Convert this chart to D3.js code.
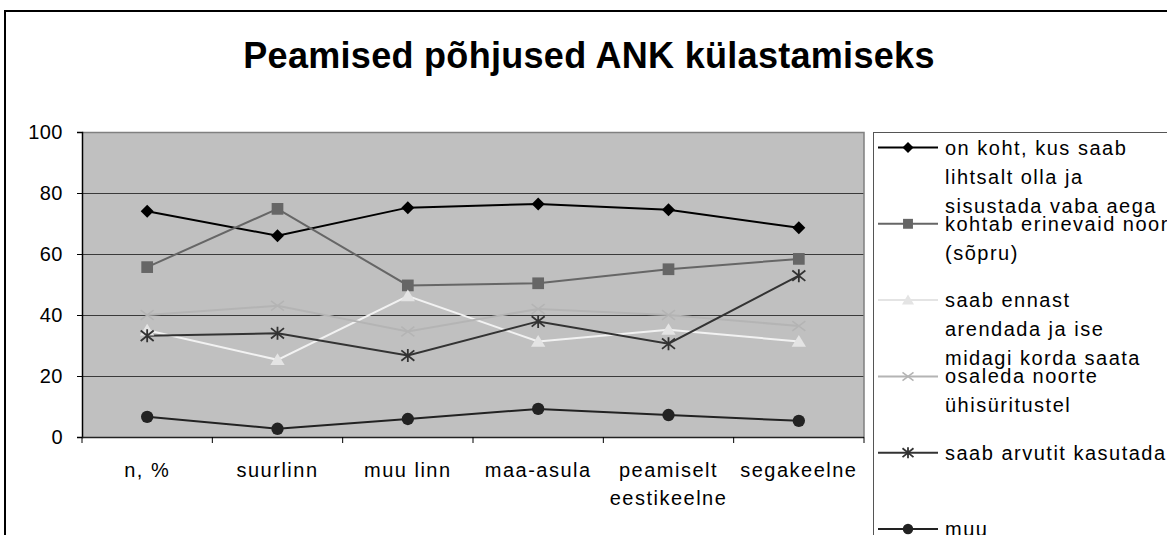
<!DOCTYPE html>
<html>
<head>
<meta charset="utf-8">
<script src="https://cdn.jsdelivr.net/npm/d3@7"></script>
<style>
  html, body { margin: 0; padding: 0; background: #fff; }
  svg { display: block; }
  text { font-family: "Liberation Sans", Arial, sans-serif; fill: #000; }
</style>
</head>
<body>
<svg id="chart" width="1167" height="535"></svg>
<script>
// Categories along the x axis (multi-line labels split on "\n")
const categories = ["n, %", "suurlinn", "muu linn", "maa-asula", "peamiselt\neestikeelne", "segakeelne"];

// Series names (legend text, wrapped into lines)
const seriesNames = [
  ["on koht, kus saab", "lihtsalt olla ja", "sisustada vaba aega"],
  ["kohtab erinevaid noore", "(sõpru)"],
  ["saab ennast", "arendada ja ise", "midagi korda saata"],
  ["osaleda noorte", "ühisüritustel"],
  ["saab arvutit kasutada"],
  ["muu"]
];

// Values per series, one per category
const vabaAeg   = [74, 66, 75.2, 76.4, 74.5, 68.6];
const noored    = [55.7, 74.8, 49.7, 50.4, 55, 58.4];
const arendada  = [35, 25.3, 46.2, 31.3, 35.2, 31.3];
const yhisyr    = [40, 43, 34.6, 42, 40, 36.4];
const arvuti    = [33.2, 34, 26.7, 37.9, 30.6, 52.9];
const muu       = [6.6, 2.7, 5.9, 9.2, 7.2, 5.3];

const yTicks = [0, 20, 40, 60, 80, 100];

const seriesValues = [vabaAeg, noored, arendada, yhisyr, arvuti, muu];
const seriesStyle = [
  { stroke: "#000000", fill: "#000000", legendStroke: "#000000", marker: "diamond" },
  { stroke: "#666666", fill: "#666666", legendStroke: "#666666", marker: "square" },
  { stroke: "#f2f2f2", fill: "#e4e4e4", legendStroke: "#e4e4e4", marker: "triangle" },
  { stroke: "#b4b4b4", fill: "#b4b4b4", legendStroke: "#b4b4b4", marker: "cross" },
  { stroke: "#333333", fill: "#333333", legendStroke: "#333333", marker: "star" },
  { stroke: "#222222", fill: "#222222", legendStroke: "#222222", marker: "circle" }
];

const svg = d3.select("#chart");

// outer frame
svg.append("rect")
  .attr("x", 5).attr("y", 11).attr("width", 1200).attr("height", 600)
  .attr("fill", "#fff").attr("stroke", "#000").attr("stroke-width", 2);

// title
svg.append("text")
  .attr("x", 589).attr("y", 68)
  .attr("text-anchor", "middle")
  .style("font-size", "36px").style("font-weight", "bold")
  .style("letter-spacing", "0.3px")
  .text("Peamised põhjused ANK külastamiseks");

const plot = { left: 82, top: 132, right: 864, bottom: 437 };

const x = d3.scaleBand().domain(categories)
  .range([plot.left, plot.right]).paddingInner(0).paddingOuter(0);
const y = d3.scaleLinear().domain([0, 100]).range([plot.bottom, plot.top]);
const cx = c => x(c) + x.bandwidth() / 2;

// plot background
svg.append("rect")
  .attr("x", plot.left).attr("y", plot.top)
  .attr("width", plot.right - plot.left).attr("height", plot.bottom - plot.top)
  .attr("fill", "#c0c0c0");

// horizontal gridlines
svg.append("g").selectAll("line")
  .data(yTicks.filter(t => t > 0 && t < 100))
  .join("line")
  .attr("x1", plot.left).attr("x2", plot.right)
  .attr("y1", d => Math.round(y(d)) + 0.5).attr("y2", d => Math.round(y(d)) + 0.5)
  .attr("stroke", "#3a3a3a").attr("stroke-width", 1);

// plot border (top and right, grey)
svg.append("path")
  .attr("d", `M${plot.left},${plot.top + 0.5}H${plot.right}V${plot.bottom}`)
  .attr("fill", "none").attr("stroke", "#808080").attr("stroke-width", 1.5);

// y axis
const yAxis = d3.axisLeft(y).tickValues(yTicks).tickSize(5).tickPadding(14);
const gy = svg.append("g").attr("transform", `translate(${plot.left},0)`).call(yAxis);
gy.select(".domain").attr("stroke", "#000").attr("stroke-width", 1.5);
gy.selectAll(".tick line").attr("stroke", "#000");
gy.selectAll(".tick text")
  .style("font-size", "20px").style("font-family", "Liberation Sans, Arial, sans-serif")
  .style("letter-spacing", "0.5px")
  .attr("fill", "#000");

// x axis line and boundary ticks
svg.append("line")
  .attr("x1", plot.left).attr("x2", plot.right)
  .attr("y1", plot.bottom + 0.5).attr("y2", plot.bottom + 0.5)
  .attr("stroke", "#222").attr("stroke-width", 1.5);
const bounds = categories.map(c => x(c)).concat([x.range()[1]]);
svg.append("g").selectAll("line")
  .data(bounds).join("line")
  .attr("x1", d => d).attr("x2", d => d)
  .attr("y1", plot.bottom).attr("y2", plot.bottom + 6)
  .attr("stroke", "#000").attr("stroke-width", 1);

// x category labels
svg.append("g").selectAll("text")
  .data(categories).join("text")
  .attr("x", d => cx(d)).attr("y", 477)
  .attr("text-anchor", "middle")
  .style("font-size", "20px").style("letter-spacing", "1.5px")
  .each(function(d) {
    const lines = d.split("\n");
    d3.select(this).selectAll("tspan").data(lines).join("tspan")
      .attr("x", cx(d)).attr("dy", (l, i) => i === 0 ? 0 : 28).text(l => l);
  });

// marker shapes
function drawMarker(g, type, fill, s) {
  switch (type) {
    case "diamond":
      g.append("path").attr("d", `M0,${-s}L${s},0L0,${s}L${-s},0Z`).attr("fill", fill);
      break;
    case "square":
      g.append("rect").attr("x", -s * 0.9).attr("y", -s * 0.9)
        .attr("width", s * 1.8).attr("height", s * 1.8).attr("fill", fill);
      break;
    case "triangle":
      g.append("path").attr("d", `M0,${-s}L${s * 1.1},${s * 0.8}L${-s * 1.1},${s * 0.8}Z`).attr("fill", fill);
      break;
    case "cross":
      g.append("path").attr("d", `M${-s},${-s * 0.75}L${s},${s * 0.75}M${-s},${s * 0.75}L${s},${-s * 0.75}`)
        .attr("stroke", fill).attr("stroke-width", 1.6).attr("fill", "none");
      break;
    case "star":
      g.append("path").attr("d", `M${-s},${-s * 0.8}L${s},${s * 0.8}M${-s},${s * 0.8}L${s},${-s * 0.8}M0,${-s}V${s}`)
        .attr("stroke", fill).attr("stroke-width", 1.8).attr("fill", "none");
      break;
    case "circle":
      g.append("circle").attr("r", s * 0.95).attr("fill", fill);
      break;
  }
}

// series lines and markers
const line = d3.line().x((d, i) => cx(categories[i])).y(d => y(d));
const seriesG = svg.append("g");
seriesValues.forEach((vals, si) => {
  const st = seriesStyle[si];
  seriesG.append("path")
    .attr("d", line(vals))
    .attr("fill", "none").attr("stroke", st.stroke).attr("stroke-width", 2);
});
seriesValues.forEach((vals, si) => {
  const st = seriesStyle[si];
  vals.forEach((v, i) => {
    const g = seriesG.append("g").attr("transform", `translate(${cx(categories[i])},${y(v)})`);
    drawMarker(g, st.marker, st.fill, 6.5);
  });
});

// legend
const legend = { left: 873, top: 132 };
svg.append("rect")
  .attr("x", legend.left + 0.5).attr("y", legend.top + 0.5)
  .attr("width", 400).attr("height", 500)
  .attr("fill", "#fff").attr("stroke", "#555").attr("stroke-width", 1);

const legendStep = 76.3;
seriesNames.forEach((lines, si) => {
  const st = seriesStyle[si];
  const yy = 147.5 + si * legendStep;
  const g = svg.append("g").attr("transform", `translate(0,${yy})`);
  g.append("line").attr("x1", 878).attr("x2", 938).attr("y1", 0).attr("y2", 0)
    .attr("stroke", st.legendStroke).attr("stroke-width", 2);
  const mg = g.append("g").attr("transform", "translate(908,0)");
  drawMarker(mg, st.marker, st.fill, 5.5);
  const t = g.append("text").attr("x", 945).attr("y", 7)
    .style("font-size", "20px").style("letter-spacing", "1.5px");
  t.selectAll("tspan").data(lines).join("tspan")
    .attr("x", 945).attr("dy", (l, i) => i === 0 ? 0 : 29).text(l => l);
});
</script>
</body>
</html>
